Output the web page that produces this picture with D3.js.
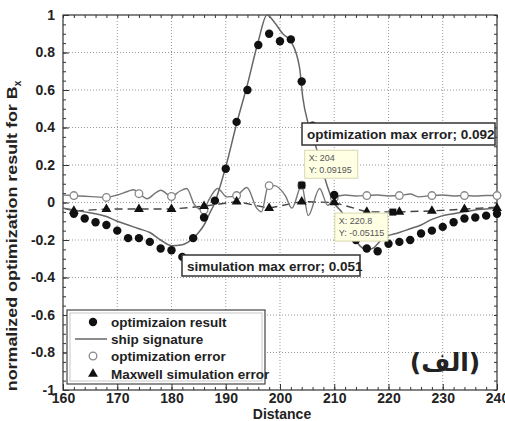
<!DOCTYPE html>
<html>
<head>
<meta charset="utf-8">
<script src="https://cdn.jsdelivr.net/npm/d3@7"></script>
<style>
  body { margin: 0; background: #fff; }
  text { font-family: "Liberation Sans", Arial, sans-serif; font-weight: bold; fill: #222; }
</style>
</head>
<body>
<script>
const width = 505;
const height = 421;

// optimization result (filled dots)
const resultDist = [162, 164, 166, 168, 170, 172, 174, 176, 178, 180, 182, 184, 186, 188, 190, 192, 194, 196, 198, 200,
    202, 204, 206, 208, 210, 212, 214, 216, 218, 220, 222, 224, 226, 228, 230, 232, 234, 236, 238, 240];
const resultVal = [-0.06, -0.085, -0.105, -0.12, -0.15, -0.19, -0.19, -0.21, -0.245, -0.255, -0.29, -0.19, -0.08, 0.01, 0.18, 0.43, 0.60, 0.84, 0.90, 0.86,
    0.87, 0.645, 0.41, 0.20, 0.04, -0.10, -0.20, -0.245, -0.26, -0.22, -0.21, -0.20, -0.165, -0.15, -0.13, -0.105, -0.085, -0.08, -0.07, -0.06];

// ship signature (solid line)
const shipDist = [160, 162, 164, 166, 168, 170, 172, 174, 176, 178, 180, 182, 184, 185, 186, 187, 188, 189, 190, 192,
    194, 196, 197.6, 199, 200.5, 202, 203.6, 204.2, 205.3, 206.7, 208.8, 209.7, 211.6, 213, 214.7, 216, 217, 219, 222, 224,
    226, 228, 230, 232, 234, 236, 238, 240];
const shipVal = [-0.03, -0.04, -0.05, -0.06, -0.075, -0.10, -0.12, -0.14, -0.16, -0.20, -0.23, -0.225, -0.19, -0.16, -0.12, -0.06, 0.0, 0.09, 0.19, 0.42,
    0.63, 0.86, 1.0, 0.96, 0.90, 0.86, 0.72, 0.56, 0.41, 0.29, 0.08, 0.01, -0.06, -0.15, -0.23, -0.25, -0.245, -0.19, -0.16, -0.14,
    -0.12, -0.09, -0.07, -0.06, -0.05, -0.04, -0.035, -0.03];

// optimization error (solid line + open circles)
const errLineDist = [160, 162, 164, 166, 168, 170, 172, 173, 174, 175.5, 177, 178, 180, 181.5, 182.8, 184.3, 185.8, 187, 188.5, 190.2,
    192, 193.9, 195.7, 196.6, 197.8, 199, 201, 202.2, 204, 205.2, 207.3, 208.8, 210, 212, 214, 216, 218, 220, 222, 224,
    225.5, 228, 230, 232, 234, 236, 238, 240];
const errLineVal = [0.04, 0.037, 0.033, 0.03, 0.027, 0.04, 0.06, 0.068, 0.05, 0.02, 0.05, 0.065, 0.032, 0.06, 0.075, -0.015, -0.04, 0.02, 0.075, 0.03,
    0.037, 0.08, -0.03, -0.05, 0.085, 0.09, 0.035, -0.03, 0.092, -0.07, 0.075, -0.015, 0.025, 0.04, 0.035, 0.037, 0.04, 0.035, 0.037, 0.045,
    0.03, 0.037, 0.04, 0.035, 0.037, 0.035, 0.037, 0.037];
const errDist = [162, 168, 174, 180, 186, 192, 198, 204, 210, 216, 222, 228, 234, 240];
const errVal = [0.037, 0.027, 0.047, 0.032, -0.04, 0.037, 0.09, 0.092, 0.025, 0.037, 0.037, 0.037, 0.037, 0.037];

// Maxwell simulation error (dashed line + triangles)
const maxLineDist = [160, 162, 168, 174, 180, 186, 192, 198, 204, 210, 216, 222, 228, 234, 240];
const maxLineVal = [-0.03, -0.045, -0.035, -0.035, -0.035, -0.02, 0.005, -0.03, 0.005, 0.0, -0.05, -0.05, -0.045, -0.035, -0.025];
const maxDist = [162, 168, 174, 180, 186, 192, 198, 204, 210, 216, 222, 228, 234, 240];
const maxVal = [-0.045, -0.035, -0.035, -0.035, -0.02, 0.005, -0.03, 0.005, 0.0, -0.05, -0.05, -0.045, -0.035, -0.03];

// data tips
const tipX = [204, 220.8];
const tipY = [0.09195, -0.05115];

const xTicks = [160, 170, 180, 190, 200, 210, 220, 230, 240];
const yTicks = [-1, -0.8, -0.6, -0.4, -0.2, 0, 0.2, 0.4, 0.6, 0.8, 1];
const yTickLabels = ["-1", "-0.8", "-0.6", "-0.4", "-0.2", "0", "0.2", "0.4", "0.6", "0.8", "1"];
const legendLabels = ["optimizaion result", "ship signature", "optimization error", "Maxwell simulation error"];

const margin = { left: 63, right: 8, top: 15, bottom: 31 };

const x = d3.scaleLinear().domain([160, 240]).range([margin.left, width - margin.right]);
const y = d3.scaleLinear().domain([-1, 1]).range([height - margin.bottom, margin.top]);

const svg = d3.select("body").append("svg")
    .attr("width", width)
    .attr("height", height);

const x0 = x.range()[0], x1 = x.range()[1];
const y0 = y.range()[1], y1 = y.range()[0];

// grid
const grid = svg.append("g").attr("stroke", "#999").attr("stroke-dasharray", "1,2").attr("stroke-width", 1);
xTicks.slice(1, -1).forEach(function (t) {
    grid.append("line").attr("x1", x(t)).attr("x2", x(t)).attr("y1", y0).attr("y2", y1);
});
yTicks.slice(1, -1).forEach(function (t) {
    grid.append("line").attr("x1", x0).attr("x2", x1).attr("y1", y(t)).attr("y2", y(t));
});

// axes (ticks inward, all four sides)
const xMinor = x.ticks(40);
const yMinor = y.ticks(40);
svg.append("g").attr("transform", "translate(0," + y1 + ")")
    .call(d3.axisTop(x).tickValues(xMinor).tickSize(3).tickFormat(""));
svg.append("g").attr("transform", "translate(0," + y0 + ")")
    .call(d3.axisBottom(x).tickValues(xMinor).tickSize(3).tickFormat(""));
svg.append("g").attr("transform", "translate(" + x0 + ",0)")
    .call(d3.axisRight(y).tickValues(yMinor).tickSize(3).tickFormat(""));
svg.append("g").attr("transform", "translate(" + x1 + ",0)")
    .call(d3.axisLeft(y).tickValues(yMinor).tickSize(3).tickFormat(""));

svg.append("g").attr("transform", "translate(0," + y1 + ")")
    .call(d3.axisTop(x).tickValues(xTicks).tickSize(6).tickFormat(""));
const xLab = svg.append("g").attr("transform", "translate(0," + y1 + ")")
    .call(d3.axisBottom(x).tickValues(xTicks).tickSize(0).tickPadding(3).tickFormat(d3.format("d")));
svg.append("g").attr("transform", "translate(" + x0 + ",0)")
    .call(d3.axisRight(y).tickValues(yTicks).tickSize(6).tickFormat(""));
svg.append("g").attr("transform", "translate(" + x0 + ",0)")
    .call(d3.axisLeft(y).tickValues(yTicks).tickSize(0).tickPadding(8)
        .tickFormat(function (d, i) { return yTickLabels[i]; }));

svg.selectAll(".domain").remove();
svg.selectAll(".tick line").attr("stroke", "#333");
svg.selectAll(".tick text").attr("font-size", 14).attr("font-family", null).attr("fill", "#222");
xLab.selectAll(".tick text").attr("dy", "0.71em");

svg.append("rect")
    .attr("x", x0).attr("y", y0)
    .attr("width", x1 - x0).attr("height", y1 - y0)
    .attr("fill", "none").attr("stroke", "#333").attr("stroke-width", 1.2);

// series
const ship = shipDist.map(function (d, i) { return [d, shipVal[i]]; });
const errLine = errLineDist.map(function (d, i) { return [d, errLineVal[i]]; });
const maxLine = maxLineDist.map(function (d, i) { return [d, maxLineVal[i]]; });

const smooth = d3.line().x(function (d) { return x(d[0]); }).y(function (d) { return y(d[1]); }).curve(d3.curveMonotoneX);
const straight = d3.line().x(function (d) { return x(d[0]); }).y(function (d) { return y(d[1]); });

svg.append("path").attr("d", straight(maxLine))
    .attr("fill", "none").attr("stroke", "#444").attr("stroke-width", 1.4).attr("stroke-dasharray", "8,5");
svg.append("path").attr("d", smooth(errLine))
    .attr("fill", "none").attr("stroke", "#777").attr("stroke-width", 1.4);
svg.append("path").attr("d", smooth(ship))
    .attr("fill", "none").attr("stroke", "#666").attr("stroke-width", 1.5);

svg.append("g").selectAll("circle")
    .data(errDist).enter().append("circle")
    .attr("cx", function (d) { return x(d); })
    .attr("cy", function (d, i) { return y(errVal[i]); })
    .attr("r", 3.8)
    .attr("fill", "#fff").attr("stroke", "#888").attr("stroke-width", 1.3);

const tri = d3.symbol().type(d3.symbolTriangle).size(42);
svg.append("g").selectAll("path")
    .data(maxDist).enter().append("path")
    .attr("d", tri)
    .attr("transform", function (d, i) { return "translate(" + x(d) + "," + y(maxVal[i]) + ")"; })
    .attr("fill", "#111");

svg.append("g").selectAll("circle")
    .data(resultDist).enter().append("circle")
    .attr("cx", function (d) { return x(d); })
    .attr("cy", function (d, i) { return y(resultVal[i]); })
    .attr("r", 4.2)
    .attr("fill", "#111");

// data tips
const tipOffsets = [[3, -35], [-58, 1]];
tipX.forEach(function (tx, i) {
    const px = x(tx), py = y(tipY[i]);
    const bx = px + tipOffsets[i][0], by = py + tipOffsets[i][1];
    svg.append("rect").attr("x", bx).attr("y", by).attr("width", 53).attr("height", 28)
        .attr("fill", "#ffffe4").attr("stroke", "#d8d8b0").attr("stroke-width", 1);
    svg.append("text").attr("x", bx + 4).attr("y", by + 11).attr("font-size", 9)
        .style("fill", "#555").style("font-weight", "normal").text("X: " + tx);
    svg.append("text").attr("x", bx + 4).attr("y", by + 23).attr("font-size", 9)
        .style("fill", "#555").style("font-weight", "normal").text("Y: " + tipY[i]);
    svg.append("rect").attr("x", px - 3.5).attr("y", py - 3.5).attr("width", 7).attr("height", 7).attr("fill", "#111");
});

// annotation boxes
function noteBox(bx, by, w, h, label) {
    svg.append("rect").attr("x", bx).attr("y", by).attr("width", w).attr("height", h)
        .attr("fill", "#fff").attr("stroke", "#333").attr("stroke-width", 1.5);
    svg.append("text").attr("x", bx + 5).attr("y", by + h / 2 + 5).attr("font-size", 13.5).text(label);
}
noteBox(302, 123, 193, 22, "optimization max error; 0.092");
noteBox(182, 255, 178, 21, "simulation max error; 0.051");

// legend
const lg = svg.append("g");
lg.append("rect").attr("x", 67).attr("y", 310).attr("width", 198).attr("height", 74)
    .attr("fill", "#fff").attr("stroke", "#444").attr("stroke-width", 1.2);
lg.append("rect").attr("x", 70).attr("y", 313).attr("width", 192).attr("height", 68)
    .attr("fill", "none").attr("stroke", "#bbb").attr("stroke-width", 0.8);
const rowY = [322, 339, 356, 374];
legendLabels.forEach(function (lab, i) {
    const ry = rowY[i];
    if (i === 0) lg.append("circle").attr("cx", 93).attr("cy", ry).attr("r", 4.2).attr("fill", "#111");
    if (i === 1) lg.append("line").attr("x1", 75).attr("x2", 107).attr("y1", ry).attr("y2", ry)
        .attr("stroke", "#666").attr("stroke-width", 1.5);
    if (i === 2) lg.append("circle").attr("cx", 93).attr("cy", ry).attr("r", 3.8)
        .attr("fill", "#fff").attr("stroke", "#888").attr("stroke-width", 1.3);
    if (i === 3) lg.append("path").attr("d", tri).attr("transform", "translate(93," + ry + ")").attr("fill", "#111");
    lg.append("text").attr("x", 111).attr("y", ry + 5).attr("font-size", 13.5).text(lab);
});

// panel label
svg.append("text").attr("x", 445).attr("y", 371)
    .attr("text-anchor", "middle").attr("font-size", 25)
    .style("font-family", "'DejaVu Sans', sans-serif")
    .text("(الف)");

// axis titles
svg.append("text").attr("x", (x0 + x1) / 2 + 2).attr("y", 419)
    .attr("text-anchor", "middle").attr("font-size", 14).text("Distance");

const yt = svg.append("text")
    .attr("transform", "translate(17,236) rotate(-90)")
    .attr("text-anchor", "middle").attr("font-size", 15);
yt.append("tspan").attr("textLength", 305).attr("lengthAdjust", "spacingAndGlyphs")
    .text("normalized optimization result for B");
yt.append("tspan").attr("font-size", 10).attr("dy", 4).text("x");
</script>
</body>
</html>
